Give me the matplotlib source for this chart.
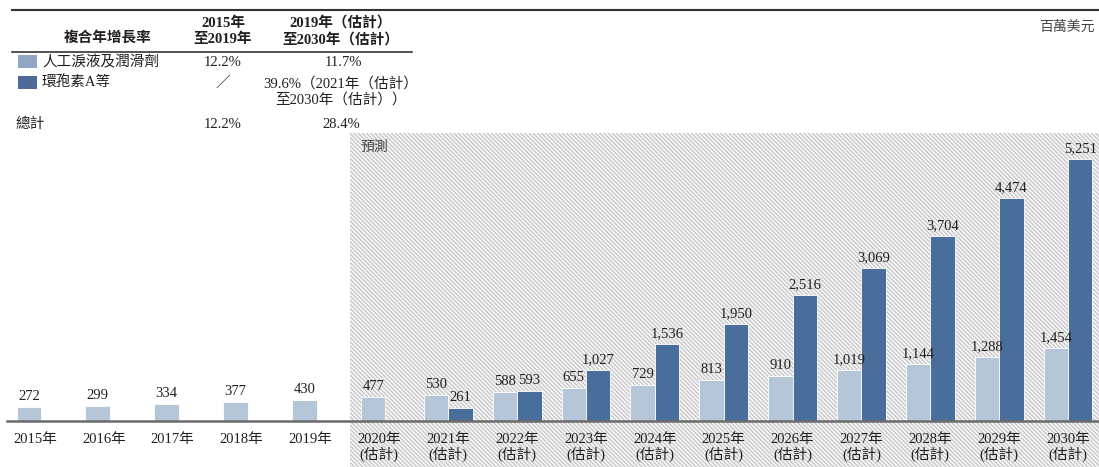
import matplotlib
matplotlib.use("Agg")
import matplotlib.pyplot as plt
import matplotlib.transforms as mtransforms
from matplotlib.patches import Rectangle
from matplotlib.lines import Line2D

plt.rcParams['font.family'] = ['Liberation Serif', 'Noto Sans CJK TC']
plt.rcParams['hatch.linewidth'] = 0.9

# ---- data ----
years = ["2015年", "2016年", "2017年", "2018年", "2019年", "2020年\n(估計)",
         "2021年\n(估計)", "2022年\n(估計)", "2023年\n(估計)", "2024年\n(估計)",
         "2025年\n(估計)", "2026年\n(估計)", "2027年\n(估計)", "2028年\n(估計)",
         "2029年\n(估計)", "2030年\n(估計)"]
tears = [272, 299, 334, 377, 430, 477, 530, 588, 655, 729, 813, 910, 1019, 1144, 1288, 1454]
cyclo = [None, None, None, None, None, None, 261, 593, 1027, 1536, 1950, 2516, 3069, 3704, 4474, 5251]
series_names = ["人工淚液及潤滑劑", "環孢素A等"]
cagr_hist = ["12.2%", "／", "12.2%"]
cagr_fcst = ["11.7%", "39.6%（2021年（估計）\n至2030年（估計））", "28.4%"]

LIGHT = "#b5c6d9"
DARK = "#4a6e9b"
LEG_LIGHT = "#8fa6c4"
LEG_DARK = "#4d6a96"
TXT = "#231f20"

W, H = 1099, 467
fig = plt.figure(figsize=(W / 100, H / 100), dpi=100)


def fx(x):
    return x / W


def fy(y):
    return 1 - y / H


# axes spanning the whole width; baseline at y=421 px
ax = fig.add_axes([0, fy(421), 1, 421 / H])
step = 68.87
ax.set_xlim(-35 / step, (W - 35) / step)
ax.set_ylim(0, 421 * 20.04)
ax.axis("off")

# forecast band (hatched), x in data coords, y in figure coords
blend = mtransforms.blended_transform_factory(ax.transData, fig.transFigure)
x0 = (350 - 35) / step
band = Rectangle((x0, 0), 20, fy(133), transform=blend, facecolor="#f8f8f8",
                 edgecolor="#c4c4c4", hatch="\\" * 8, lw=0, clip_on=False, zorder=0)
ax.add_patch(band)
fig.text(fx(360), fy(147), "預測", fontsize=10, style="italic", color="#444444",
         ha="left", va="center")

bw = 0.355
for i, (a, b) in enumerate(zip(tears, cyclo)):
    if b is None:
        xa = i - 0.09
        ax.bar(xa, a, width=bw, color=LIGHT, edgecolor="white", lw=0.6, zorder=2)
        ax.text(xa, a + 80, f"{a:,}", ha="center", va="bottom", fontsize=10.5, color=TXT)
    else:
        xa, xb = i - bw / 2, i + bw / 2
        ax.bar(xa, a, width=bw, color=LIGHT, edgecolor="white", lw=0.6, zorder=2)
        ax.bar(xb, b, width=bw, color=DARK, edgecolor="white", lw=0.6, zorder=2)
        ax.text(xa, a + 80, f"{a:,}", ha="center", va="bottom", fontsize=10.5, color=TXT)
        ax.text(xb, b + 80, f"{b:,}", ha="center", va="bottom", fontsize=10.5, color=TXT)

# baseline
ax.axhline(0, xmin=7 / W, xmax=1, color="#6b6b6b", lw=1.8, zorder=3, clip_on=False)

# category labels
for i, lab in enumerate(years):
    ax.text(i, -12 * 20.04, lab, ha="center", va="top", fontsize=10.5, color=TXT,
            linespacing=1.05, clip_on=False)

# ---- CAGR table ----
fig.add_artist(Line2D([fx(12), fx(W)], [fy(10), fy(10)], color="#333333", lw=1.5))
fig.add_artist(Line2D([fx(12), fx(412)], [fy(52), fy(52)], color="#333333", lw=1.2))

fig.text(fx(108), fy(38), "複合年增長率", ha="center", va="center", fontsize=10.5,
         weight="bold", color=TXT)
fig.text(fx(223), fy(31), "2015年\n至2019年", ha="center", va="center", fontsize=10.5,
         weight="bold", color=TXT, linespacing=1.2)
fig.text(fx(341), fy(31), "2019年（估計）\n至2030年（估計）", ha="center", va="center",
         fontsize=10.5, weight="bold", color=TXT, linespacing=1.2)

fig.add_artist(Rectangle((fx(18), fy(68)), fx(19), 13 / H, facecolor=LEG_LIGHT,
                         edgecolor="none", transform=fig.transFigure))
fig.add_artist(Rectangle((fx(18), fy(89)), fx(19), 13 / H, facecolor=LEG_DARK,
                         edgecolor="none", transform=fig.transFigure))
fig.text(fx(42), fy(62), series_names[0], ha="left", va="center", fontsize=10.5, color=TXT)
fig.text(fx(42), fy(83), series_names[1], ha="left", va="center", fontsize=10.5, color=TXT)
fig.text(fx(15), fy(124), "總計", ha="left", va="center", fontsize=10.5, color=TXT)

rows_y = [62, 83, 124]
for y, h in zip(rows_y, cagr_hist):
    fig.text(fx(223), fy(y), h, ha="center", va="center", fontsize=10.5, color=TXT)
fig.text(fx(343), fy(62), cagr_fcst[0], ha="center", va="center", fontsize=10.5, color=TXT)
fig.text(fx(341), fy(92), cagr_fcst[1], ha="center", va="center", fontsize=10.5,
         color=TXT, linespacing=1.2)
fig.text(fx(341), fy(124), cagr_fcst[2], ha="center", va="center", fontsize=10.5, color=TXT)

fig.text(fx(1095), fy(27), "百萬美元", ha="right", va="center", fontsize=10,
         style="italic", color="#444444")

fig.savefig("out.png", dpi=100)
